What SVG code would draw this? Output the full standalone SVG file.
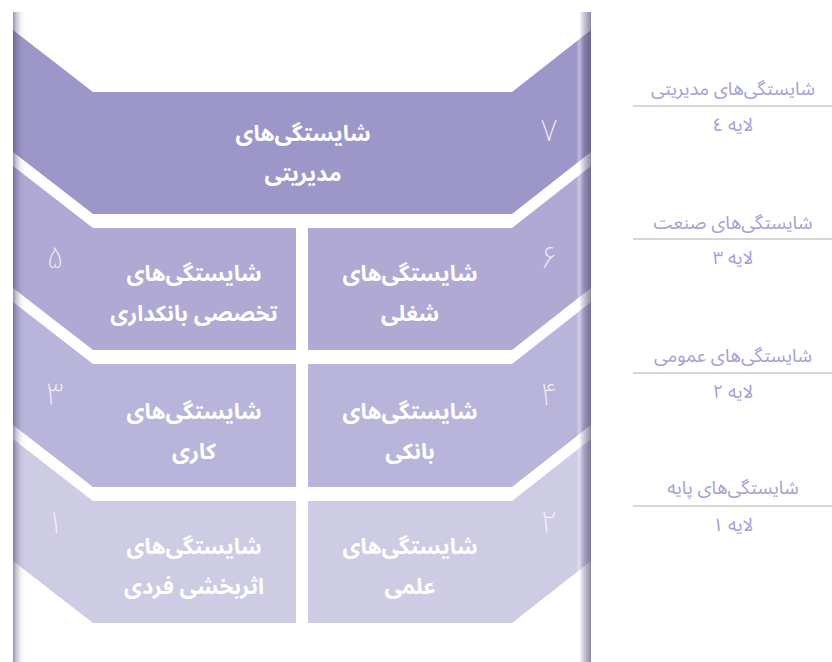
<svg xmlns="http://www.w3.org/2000/svg" width="832" height="662" viewBox="0 0 832 662">
<style>
.t{font-family:"Noto Sans Arabic","DejaVu Sans","Noto Sans",sans-serif;font-size:22px;font-weight:bold;fill:#ffffff;text-anchor:middle;direction:rtl}
.n{font-family:"Noto Sans Arabic","DejaVu Sans","Noto Sans",sans-serif;font-size:31px;font-weight:200;fill:#f4f2fb;text-anchor:middle}
.s{font-family:"Noto Sans Arabic","DejaVu Sans","Noto Sans",sans-serif;font-size:18.5px;fill:#a59fd2;text-anchor:middle;direction:rtl}
.r1{fill:#9d96c8}.r2{fill:#afa9d4}.r3{fill:#b9b4d9}.r4{fill:#cecbe4}
.ln{stroke:#c8c8c8;stroke-width:1.5}
</style>
<defs>
<linearGradient id="edge" x1="0" y1="0" x2="1" y2="0">
<stop offset="0" stop-color="#4e4970" stop-opacity="0.6"/>
<stop offset="0.006" stop-color="#4e4970" stop-opacity="0.3"/>
<stop offset="0.014" stop-color="#4e4970" stop-opacity="0.06"/>
<stop offset="0.022" stop-color="#4e4970" stop-opacity="0"/>
<stop offset="0.974" stop-color="#ffffff" stop-opacity="0"/>
<stop offset="0.98" stop-color="#ffffff" stop-opacity="0.35"/>
<stop offset="0.988" stop-color="#4e4970" stop-opacity="0.3"/>
<stop offset="1" stop-color="#4e4970" stop-opacity="0.65"/>
</linearGradient>
</defs>
<rect width="832" height="662" fill="#ffffff"/>
<g id="node7">
<polygon class="r1" points="13,30 93,92 512,92 591,30 591,152 512,214 93,214 13,152"/>
<text class="t" x="303" y="141">شایستگی&#8204;های</text>
<text class="t" x="303" y="181">مدیریتی</text>
<text class="n" x="549" y="141">۷</text>
</g>
<g id="node5">
<polygon class="r2" points="13,166 93,228 296,228 296,350 93,350 13,288"/>
<text class="t" x="194" y="281">شایستگی&#8204;های</text>
<text class="t" x="194" y="321">تخصصی بانکداری</text>
<text class="n" x="55" y="268">۵</text>
</g>
<g id="node6">
<polygon class="r2" points="308,228 512,228 591,166 591,288 512,350 308,350"/>
<text class="t" x="410" y="281">شایستگی&#8204;های</text>
<text class="t" x="410" y="321">شغلی</text>
<text class="n" x="549" y="268">۶</text>
</g>
<g id="node3">
<polygon class="r3" points="13,302 93,364 296,364 296,487 93,487 13,425"/>
<text class="t" x="194" y="419">شایستگی&#8204;های</text>
<text class="t" x="194" y="459">کاری</text>
<text class="n" x="55" y="405">۳</text>
</g>
<g id="node4">
<polygon class="r3" points="308,364 512,364 591,302 591,425 512,487 308,487"/>
<text class="t" x="410" y="419">شایستگی&#8204;های</text>
<text class="t" x="410" y="459">بانکی</text>
<text class="n" x="549" y="405">۴</text>
</g>
<g id="node1">
<polygon class="r4" points="13,439 93,501 296,501 296,623 93,623 13,561"/>
<text class="t" x="194" y="554">شایستگی&#8204;های</text>
<text class="t" x="194" y="594">اثربخشی فردی</text>
<text class="n" x="55" y="533">۱</text>
</g>
<g id="node2">
<polygon class="r4" points="308,501 512,501 591,439 591,561 512,623 308,623"/>
<text class="t" x="410" y="554">شایستگی&#8204;های</text>
<text class="t" x="410" y="594">علمی</text>
<text class="n" x="549" y="533">۲</text>
</g>
<rect id="frame" x="13" y="12" width="578" height="650" fill="url(#edge)"/>
<g id="label4">
<text class="s" x="733" y="95">شایستگی&#8204;های مدیریتی</text>
<line class="ln" x1="633" y1="106" x2="832" y2="106"/>
<text class="s" x="733" y="131">لایه ٤</text>
</g>
<g id="label3">
<text class="s" x="733" y="229">شایستگی&#8204;های صنعت</text>
<line class="ln" x1="633" y1="239" x2="832" y2="239"/>
<text class="s" x="733" y="264">لایه ۳</text>
</g>
<g id="label2">
<text class="s" x="733" y="362">شایستگی&#8204;های عمومی</text>
<line class="ln" x1="633" y1="373" x2="832" y2="373"/>
<text class="s" x="733" y="398">لایه ۲</text>
</g>
<g id="label1">
<text class="s" x="733" y="494">شایستگی&#8204;های پایه</text>
<line class="ln" x1="633" y1="506" x2="832" y2="506"/>
<text class="s" x="733" y="531">لایه ۱</text>
</g>
<g id="connectors"/>
</svg>
